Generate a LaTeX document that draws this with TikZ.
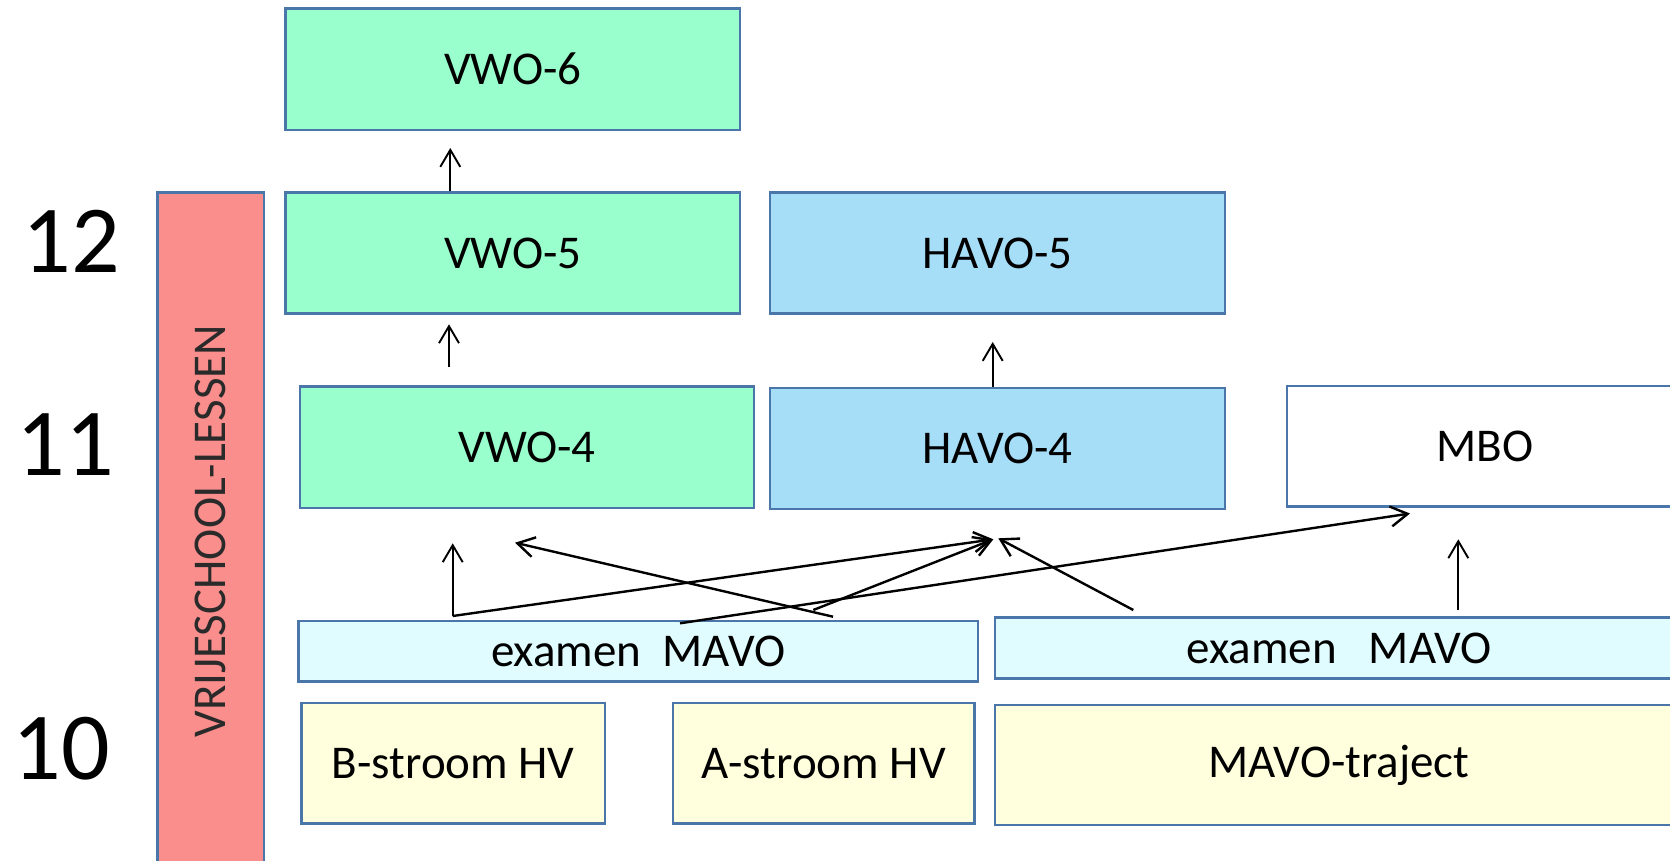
\documentclass[tikz,border=0pt]{standalone}
\usepackage{fontspec}
\setmainfont{Carlito}
\usetikzlibrary{arrows.meta,calc}
\definecolor{vwog}{HTML}{99FFCC}
\definecolor{havob}{HTML}{A6DEF8}
\definecolor{examc}{HTML}{E0FCFF}
\definecolor{yelc}{HTML}{FFFFDD}
\definecolor{barc}{HTML}{F98E8C}
\definecolor{bcol}{HTML}{4A76AA}
\definecolor{bartext}{HTML}{2A2A2A}
\begin{document}
\begin{tikzpicture}[x=0.5pt,y=-0.5pt,
  bx/.style={draw=bcol, line width=1.1pt, inner sep=0pt, font=\fontsize{23.5}{28}\selectfont, text=black},
  arr/.style={line width=0.95pt, -{Straight Barb[length=8.5pt,width=10pt]}},
  darr/.style={arr, line width=1.2pt},
  num/.style={inner sep=0pt, font=\fontsize{48}{56}\selectfont}]
\useasboundingbox (0,0) rectangle (1670,861);
\clip (0,0) rectangle (1670,861);
\fill[white] (0,0) rectangle (1670,861);

% boxes
\node[bx, fill=vwog, minimum width=227.25pt, minimum height=60.75pt] (vwo6) at (512.75,69.25) {VWO-6};
\node[bx, fill=vwog, minimum width=227.25pt, minimum height=60.5pt] (vwo5) at (512.75,253) {VWO-5};
\node[bx, fill=havob, minimum width=227.5pt, minimum height=60.5pt] (havo5) at (997.5,253) {HAVO-5};
\node[bx, fill=vwog, minimum width=227pt, minimum height=60.75pt] (vwo4) at (527,447.25) {VWO-4};
\node[bx, fill=havob, minimum width=227.5pt, minimum height=60.5pt] (havo4) at (997.5,448.5) {HAVO-4};
\node[bx, fill=white, minimum width=198pt, minimum height=60.25pt] (mbo) at (1485,446.25) {MBO};
\node[bx, fill=examc, minimum width=339.75pt, minimum height=30.25pt] (exam1) at (638.25,651.25) {examen\ \ MAVO};
\node[bx, fill=examc, minimum width=344pt, minimum height=30.5pt] (exam2) at (1339,648) {examen\ \ \ MAVO};
\node[bx, fill=yelc, minimum width=151.75pt, minimum height=60.25pt] (bstr) at (453.25,763.25) {B-stroom HV};
\node[bx, fill=yelc, minimum width=150.75pt, minimum height=60.25pt] (astr) at (823.75,763.25) {A-stroom HV};
\node[bx, fill=yelc, minimum width=344pt, minimum height=60.25pt] (mavot) at (1339,765) {MAVO-traject};
\node[bx, fill=barc, text=bartext, rotate=90, minimum width=338.75pt, minimum height=53.25pt] (bar) at (210.75,531.25) {VRIJESCHOOL-LESSEN};

% year numbers
\node[num] (n12) at (71,241) {12};
\node[num] (n11) at (65.5,444.8) {11};
\node[num] (n10) at (61,749) {10};

% arrows
\coordinate (t1) at (450.3,148);
\draw[arr] (vwo5.north -| t1) -- (t1);
\coordinate (t2) at (449,324.3);
\draw[arr, shorten <=9.1pt] (vwo4.north -| t2) -- (t2);
\coordinate (t3) at (992.7,342);
\draw[arr] (havo4.north -| t3) -- (t3);

\coordinate (s1) at (452.7,616);
\coordinate (tv4) at (452.7,543.3);
\coordinate (th1) at (993.3,539.3);
\draw[arr] (s1) -- (tv4);
\draw[darr] (s1) -- (th1);
\coordinate (s2) at (833,616.7);
\coordinate (tv4b) at (515,542.7);
\draw[darr] (s2) -- (tv4b);
\coordinate (s3) at (813.3,610);
\draw[darr] (s3) -- (th1);
\coordinate (s4) at (680,623.3);
\coordinate (tm) at (1410,513.5);
\draw[darr] (s4) -- (tm);
\coordinate (s5) at (1133.3,610);
\coordinate (th2) at (998.3,538.3);
\draw[darr] (s5) -- (th2);
\coordinate (tm2) at (1458.3,539.3);
\draw[arr, shorten <=3.4pt] (exam2.north -| tm2) -- (tm2);
\end{tikzpicture}
\end{document}
